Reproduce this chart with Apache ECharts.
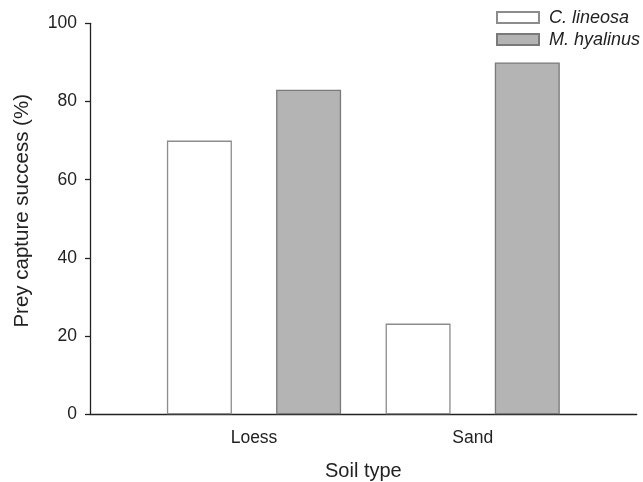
<!DOCTYPE html>
<html>
<head>
<meta charset="utf-8">
<script src="https://cdn.jsdelivr.net/npm/echarts@6/dist/echarts.min.js"></script>
<style>html,body{margin:0;padding:0;background:#fff}#c{width:643px;height:482px}</style>
</head>
<body>
<div id="c"></div>
<script>
const categories = ['Loess', 'Sand'];
const categoryPositions = [1, 2];
const seriesNames = ['C. lineosa', 'M. hyalinus'];
const lineosaValues = [70, 23.2];
const hyalinusValues = [83, 90];
const yTicks = [0, 20, 40, 60, 80, 100];

const font = '"Liberation Sans", Arial, sans-serif';
const chart = echarts.init(document.getElementById('c'));
chart.setOption({
  animation: false,
  backgroundColor: '#fff',
  grid: { left: 90, right: 6.3, top: 23.3, bottom: 67.7, containLabel: false, outerBoundsMode: 'none' },
  legend: {
    orient: 'vertical', left: 491, top: 3.5,
    icon: 'rect',
    itemWidth: 42, itemHeight: 11, itemGap: 4,
    textStyle: { fontFamily: font, fontStyle: 'italic', fontSize: 18, color: '#222', padding: [0,0,0,5] },
    data: seriesNames
  },
  xAxis: {
    type: 'value', min: 0.25, max: 2.75,
    name: 'Soil type', nameLocation: 'middle', nameGap: 47,
    nameTextStyle: { fontFamily: font, fontSize: 20, color: '#222' },
    axisLine: { show: true, lineStyle: { color: '#222', width: 1.3 } },
    axisTick: { show: false },
    splitLine: { show: false },
    axisLabel: {
      customValues: categoryPositions,
      formatter: v => categories[categoryPositions.indexOf(v)] || '',
      margin: 14.5, fontFamily: font, fontSize: 17.5, color: '#222'
    }
  },
  yAxis: {
    type: 'value', min: yTicks[0], max: yTicks[yTicks.length - 1], interval: 20,
    name: 'Prey capture success (%)', nameLocation: 'middle', nameGap: 57,
    nameTextStyle: { fontFamily: font, fontSize: 20.5, color: '#222', padding: [0, 0, 0, 16] },
    axisLine: { show: true, lineStyle: { color: '#222', width: 1.3 } },
    axisTick: { show: true, inside: false, length: 5, lineStyle: { color: '#222', width: 1.3 } },
    splitLine: { show: false },
    axisLabel: { margin: 13, fontFamily: font, fontSize: 17.5, color: '#222' }
  },
  series: [
    {
      name: seriesNames[0], type: 'bar', barWidth: 65, barGap: '68%',
      itemStyle: { color: '#ffffff', borderColor: '#8c8c8c', borderWidth: 1.3 },
      data: categoryPositions.map((p, i) => [p, lineosaValues[i]])
    },
    {
      name: seriesNames[1], type: 'bar', barWidth: 65, barGap: '68%',
      itemStyle: { color: '#b4b4b4', borderColor: '#7a7a7a', borderWidth: 1.3 },
      data: categoryPositions.map((p, i) => [p, hyalinusValues[i]])
    }
  ]
});
</script>
</body>
</html>
